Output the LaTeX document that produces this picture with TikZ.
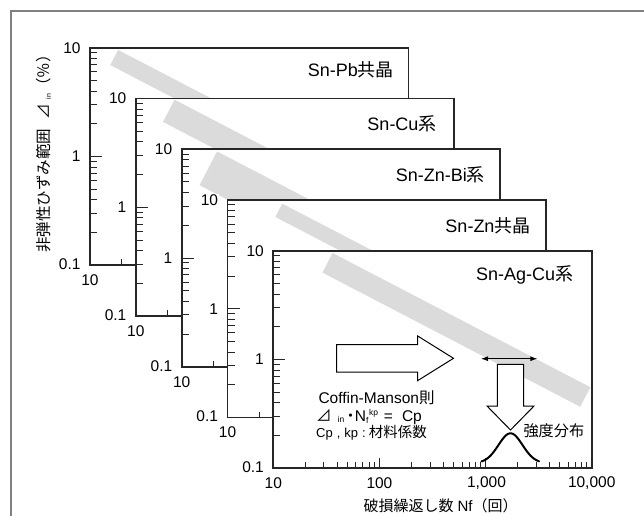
\documentclass[tikz,border=0pt]{standalone}
\usepackage{fontspec}
\setmainfont{Liberation Sans}
\newfontfamily\cjk{Noto Sans CJK JP}
\usetikzlibrary{arrows.meta}
\newcommand\fs[1]{\fontsize{#1}{#1}\selectfont}
\tikzset{
  frameline/.style={line width=1.7pt, draw=black!85},
  tickline/.style={line width=1pt, draw=black!85},
  bandline/.style={draw=black!14},
  ylab/.style={anchor=east, fill=white, inner sep=0.8pt, font=\fs{15.5}},
  xlab/.style={anchor=center, fill=white, inner sep=0.8pt, font=\fs{15.5}},
  plabel/.style={anchor=east, inner sep=0pt, font=\fs{18}},
  hollow/.style={draw=black, fill=white, line width=1pt, line join=miter},
}
% #1 id, #2 L, #3 T, #4 band start (rel), #5 band width, #6 label, #7 label pos (rel)
\newcommand\drawpanel[7]{%
\begin{scope}[shift={(#2,#3)}]
  \fill[white] (0,0) rectangle (318.4,217.6);
  \begin{scope}
    \clip (0,0) rectangle (318.4,217.6);
    \draw[bandline, line width=#5] (#4) -- ++(257.8,134.2);
  \end{scope}
  \foreach \d in {0,1}{\foreach \k in {2,...,9}{\draw[tickline] (0,{108.8*(\d+1-log10(\k))}) -- ++(7,0);}}
  \draw[tickline] (0,108.8) -- ++(12,0);
  \foreach \d in {0,1,2}{\foreach \k in {2,...,9}{\draw[tickline] ({106.13*(\d+log10(\k))},217.6) -- ++(0,-6);}}
  \draw[tickline] (106.13,217.6) -- ++(0,-10) (212.27,217.6) -- ++(0,-10);
  \draw[frameline] (0,0) rectangle (318.4,217.6);
  \node[ylab] (#1ya) at (-8.5,0) {10};
  \node[ylab] (#1yb) at (-8.5,108.8) {1};
  \node[ylab] (#1yc) at (-8.5,216.6) {0.1};
  \node[xlab] (#1xa) at (0,232.5) {10};
  \node[plabel] (#1lab) at (#7) {#6};
\end{scope}}
\begin{document}
\begin{tikzpicture}[x=1pt,y=-1pt]
\useasboundingbox (0,0) rectangle (644,515);
\clip (0,0) rectangle (644,515);
% outer frame
\draw[line width=1.3pt, draw=black!50] (11,530) -- (11,11) -- (660,11);
% y-axis title
\node[rotate=90, inner sep=0pt] (ytitle) at (44,150) {{\cjk\fs{15.5}非弾性ひずみ範囲\hspace{9pt}⊿}\hspace{5pt}\raisebox{-1pt}{\fs{7}in}{\cjk\fs{15.5}（％）}};
% panels
\drawpanel{pa}{90}{47.7}{24.2,9.8}{17pt}{Sn-Pb{\cjk 共晶}}{304,22.3}
\drawpanel{pb}{135.8}{98.45}{33,12.35}{25pt}{Sn-Cu{\cjk 系}}{300.9,25.75}
\drawpanel{pc}{181.7}{149.2}{26.6,19.1}{38pt}{Sn-Zn-Bi{\cjk 系}}{303.3,25.8}
\drawpanel{pd}{227.5}{199.95}{51.3,10.35}{15pt}{Sn-Zn{\cjk 共晶}}{303.2,26}
\drawpanel{pe}{273.3}{250.7}{54.2,12.1}{22pt}{Sn-Ag-Cu{\cjk 系}}{300,24.3}
% front x labels
\node[xlab] (x100) at (379.43,483.2) {100};
\node[xlab] (x1000) at (486.5,483.2) {1,000};
\node[xlab] (x10000) at (591.7,483.2) {10,000};
% x-axis title
\node[anchor=base west, inner sep=0pt] (xtitle) at (363.3,511.8) {{\cjk\fs{15}破損繰返し数}\hspace{4pt}{\fs{15}Nf}{\cjk\fs{15}（回）}};
% hollow right arrow
\draw[hollow] (336.7,344.5) -- (417.7,344.5) -- (417.7,336) -- (453.5,358.3) -- (417.7,380.6) -- (417.7,372) -- (336.7,372) -- cycle;
% double arrow
\coordinate (da1) at (481,358.7);
\coordinate (da2) at (537.3,358.7);
\draw[{Latex[length=7pt,width=5pt]}-{Latex[length=7pt,width=5pt]}, line width=0.9pt] (da1) -- (da2);
% hollow down arrow
\draw[hollow] (497.3,364.3) -- (523.7,364.3) -- (523.7,406) -- (534,406) -- (510.5,430) -- (487,406) -- (497.3,406) -- cycle;
% Coffin-Manson text
\node[anchor=base west, inner sep=0pt] (cm1) at (318.3,403.3) {\fs{15.5}Coffin-Manson{\cjk 則}};
\node[anchor=base west, inner sep=0pt] (cm2) at (316,421.7) {\fs{15.5}{\cjk ⊿}\hspace{6pt}\raisebox{-1pt}{\fs{8.5}in}\hspace{-1.5pt}{\cjk ・}\hspace{-3.5pt}N\rlap{\raisebox{-1.5pt}{\fs{8.5}f}}\hspace{3pt}\raisebox{6pt}{\fs{8.5}kp}\hspace{6pt}=\hspace{9pt}Cp};
\node[anchor=base west, inner sep=0pt] (cm3) at (316,437) {\fs{13}Cp\hspace{4pt},\hspace{4pt}kp\hspace{4pt}:\hspace{3pt}{\cjk\fs{14.5}材料係数}};
% strength distribution
\node[anchor=base west, inner sep=0pt] (dist) at (523.3,436) {\cjk\fs{15.2}強度分布};
\draw[line width=2pt, line cap=round] plot[domain=481.5:539, samples=80, smooth] (\x,{463-29.7*exp(-0.5*((\x-510.5)/12)^2)});
\end{tikzpicture}
\end{document}
